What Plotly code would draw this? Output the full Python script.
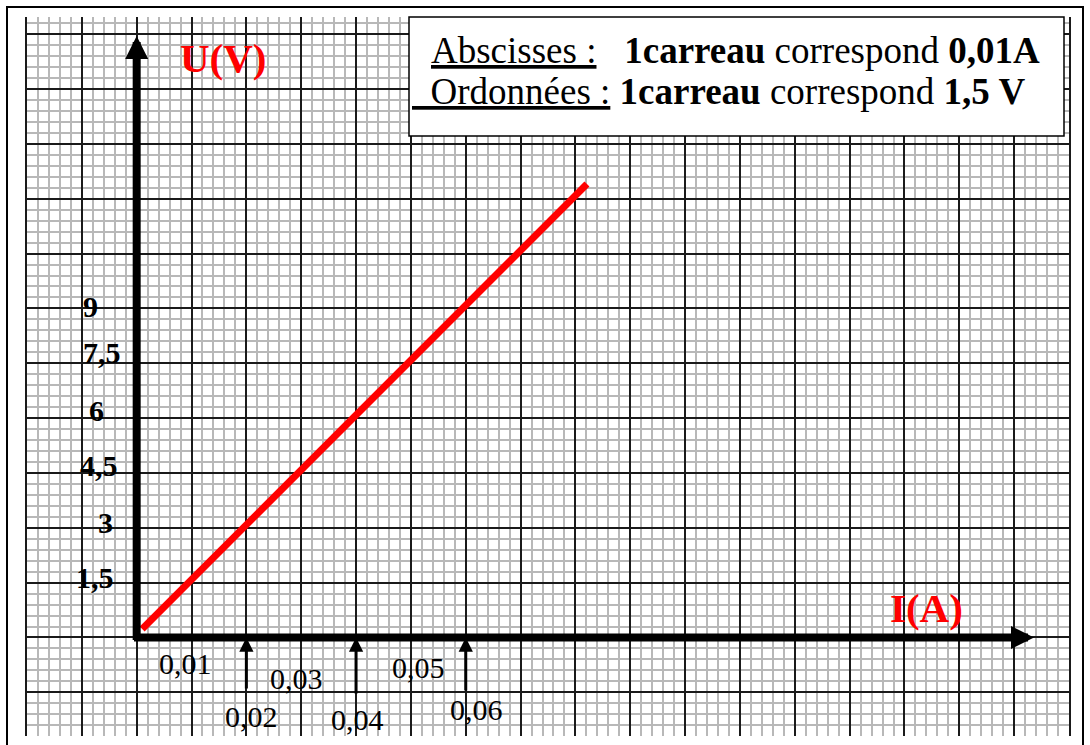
import plotly.graph_objects as go

# ---------------- data ----------------
I_values = [0.001, 0.0821]      # A  (ends of the red straight line)
U_values = [0.23, 12.40]        # V
x_tick_values = [0.01, 0.02, 0.03, 0.04, 0.05, 0.06]
x_tick_labels = ["0,01", "0,02", "0,03", "0,04", "0,05", "0,06"]
x_marked_values = [0.02, 0.04, 0.06]
y_tick_values = [9, 7.5, 6, 4.5, 3, 1.5]
y_tick_labels = ["9", "7,5", "6", "4,5", "3", "1,5"]
x_title = "I(A)"
y_title = "U(V)"
scale_line_1 = ("<u>Abscisses :</u>\u00a0\u00a0\u00a0<b>1carreau</b> correspond <b>0,01A</b>")
scale_line_2 = ("<u>\u00a0\u00a0Ordonnées :</u>\u00a0<b>1carreau</b> correspond <b>1,5 V</b>")

# ---------------- geometry (pixels) ----------------
W, H = 1090, 745
PL, PR, PT, PB = 27, 1069, 17, 736
X_RANGE = [-0.02, 0.17]
Y_RANGE = [-2.695, 16.97]
KX = (PR - PL) / (X_RANGE[1] - X_RANGE[0])
KY = (PB - PT) / (Y_RANGE[1] - Y_RANGE[0])


def dx(px):
    return X_RANGE[0] + (px - PL) / KX


def dy(py):
    return Y_RANGE[0] + (PB - py) / KY


def qx(px):
    return (px - PL) / (PR - PL)


def qy(py):
    return (PB - py) / (PB - PT)


def px_of_x(v):
    return PL + (v - X_RANGE[0]) * KX


X_LABEL_POS = [(185, 663), (251, 716), (297, 678), (358, 719), (419, 667), (476, 709)]
Y_LABEL_POS = [(90, 306), (102, 352), (96, 410), (99, 465), (105, 522), (95, 577)]
MARK_BOTTOM = [690, 695, 692]

SERIF = "Liberation Serif, Times New Roman, serif"
MAJOR = "#1a1a1a"
MINOR = "#b8b8b8"

fig = go.Figure()
fig.add_trace(go.Scatter(x=I_values, y=U_values, mode="lines",
                         line=dict(color="#ff0000", width=7),
                         hoverinfo="skip", showlegend=False))

ann = []
# x labels
for v, t, (px, py) in zip(x_tick_values, x_tick_labels, X_LABEL_POS):
    ann.append(dict(x=v, y=dy(py), xref="x", yref="y", text=t, showarrow=False,
                    xshift=px - px_of_x(v), xanchor="center", yanchor="middle",
                    font=dict(family=SERIF, size=30, color="black")))
# y labels
for v, t, (px, py) in zip(y_tick_values, y_tick_labels, Y_LABEL_POS):
    ann.append(dict(x=dx(px), y=dy(py), xref="x", yref="y", text="<b>" + t + "</b>",
                    showarrow=False, xanchor="center", yanchor="middle",
                    font=dict(family=SERIF, size=30, color="black")))
# small marker arrows
for v, pb in zip(x_marked_values, MARK_BOTTOM):
    ann.append(dict(x=v, y=0, ax=v, ay=dy(pb), xref="x", yref="y", axref="x", ayref="y",
                    text="", showarrow=True, arrowhead=2, arrowsize=0.95, arrowwidth=3,
                    arrowcolor="black", standoff=0))
# main axes
ann.append(dict(x=0, y=dy(36), ax=0, ay=dy(641.5), xref="x", yref="y", axref="x", ayref="y",
                text="", showarrow=True, arrowhead=2, arrowsize=0.575, arrowwidth=8,
                arrowcolor="black", standoff=0))
ann.append(dict(x=dx(1034), y=0, ax=dx(132.5), ay=0, xref="x", yref="y", axref="x", ayref="y",
                text="", showarrow=True, arrowhead=2, arrowsize=0.575, arrowwidth=8,
                arrowcolor="black", standoff=0))
# axis titles
ann.append(dict(x=dx(223), y=dy(58), xref="x", yref="y", text="<b>" + y_title + "</b>",
                showarrow=False, font=dict(family=SERIF, size=41, color="#ff0000")))
ann.append(dict(x=dx(926), y=dy(608), xref="x", yref="y", text="<b>" + x_title + "</b>",
                showarrow=False, font=dict(family=SERIF, size=41, color="#ff0000")))
# scale box text
ann.append(dict(x=qx(429), y=qy(50.5), xref="paper", yref="paper", text=scale_line_1,
                showarrow=False, xanchor="left", yanchor="middle",
                font=dict(family=SERIF, size=37, color="black")))
ann.append(dict(x=qx(410), y=qy(91.5), xref="paper", yref="paper", text=scale_line_2,
                showarrow=False, xanchor="left", yanchor="middle",
                font=dict(family=SERIF, size=37, color="black")))

shapes = [
    # scale box
    dict(type="rect", xref="paper", yref="paper", x0=qx(409), x1=qx(1064), y0=qy(136), y1=qy(17),
         fillcolor="white", line=dict(color="black", width=1.5), layer="above"),
    # outer frame
    dict(type="rect", xref="paper", yref="paper", x0=qx(7), x1=qx(1083), y0=qy(770), y1=qy(7),
         fillcolor="rgba(0,0,0,0)", line=dict(color="black", width=2), layer="above"),
]

fig.update_layout(
    width=W, height=H,
    margin=dict(l=PL, r=W - PR, t=PT, b=H - PB, pad=0),
    paper_bgcolor="white", plot_bgcolor="white",
    showlegend=False,
    annotations=ann, shapes=shapes,
    xaxis=dict(range=X_RANGE, tick0=0, dtick=0.01, showgrid=True, gridcolor=MAJOR, gridwidth=2,
               minor=dict(tick0=0, dtick=0.002, showgrid=True, gridcolor=MINOR, gridwidth=1.5),
               zeroline=False, showticklabels=False, ticks="", showline=False, fixedrange=True),
    yaxis=dict(range=Y_RANGE, tick0=0, dtick=1.5, showgrid=True, gridcolor=MAJOR, gridwidth=2,
               minor=dict(tick0=0, dtick=0.3, showgrid=True, gridcolor=MINOR, gridwidth=1.5),
               zeroline=False, showticklabels=False, ticks="", showline=True, mirror=True,
               linecolor=MAJOR, linewidth=2, fixedrange=True),
)

fig.write_html("out.html", config={"displayModeBar": False},
               post_script="document.body.style.margin='0';")
